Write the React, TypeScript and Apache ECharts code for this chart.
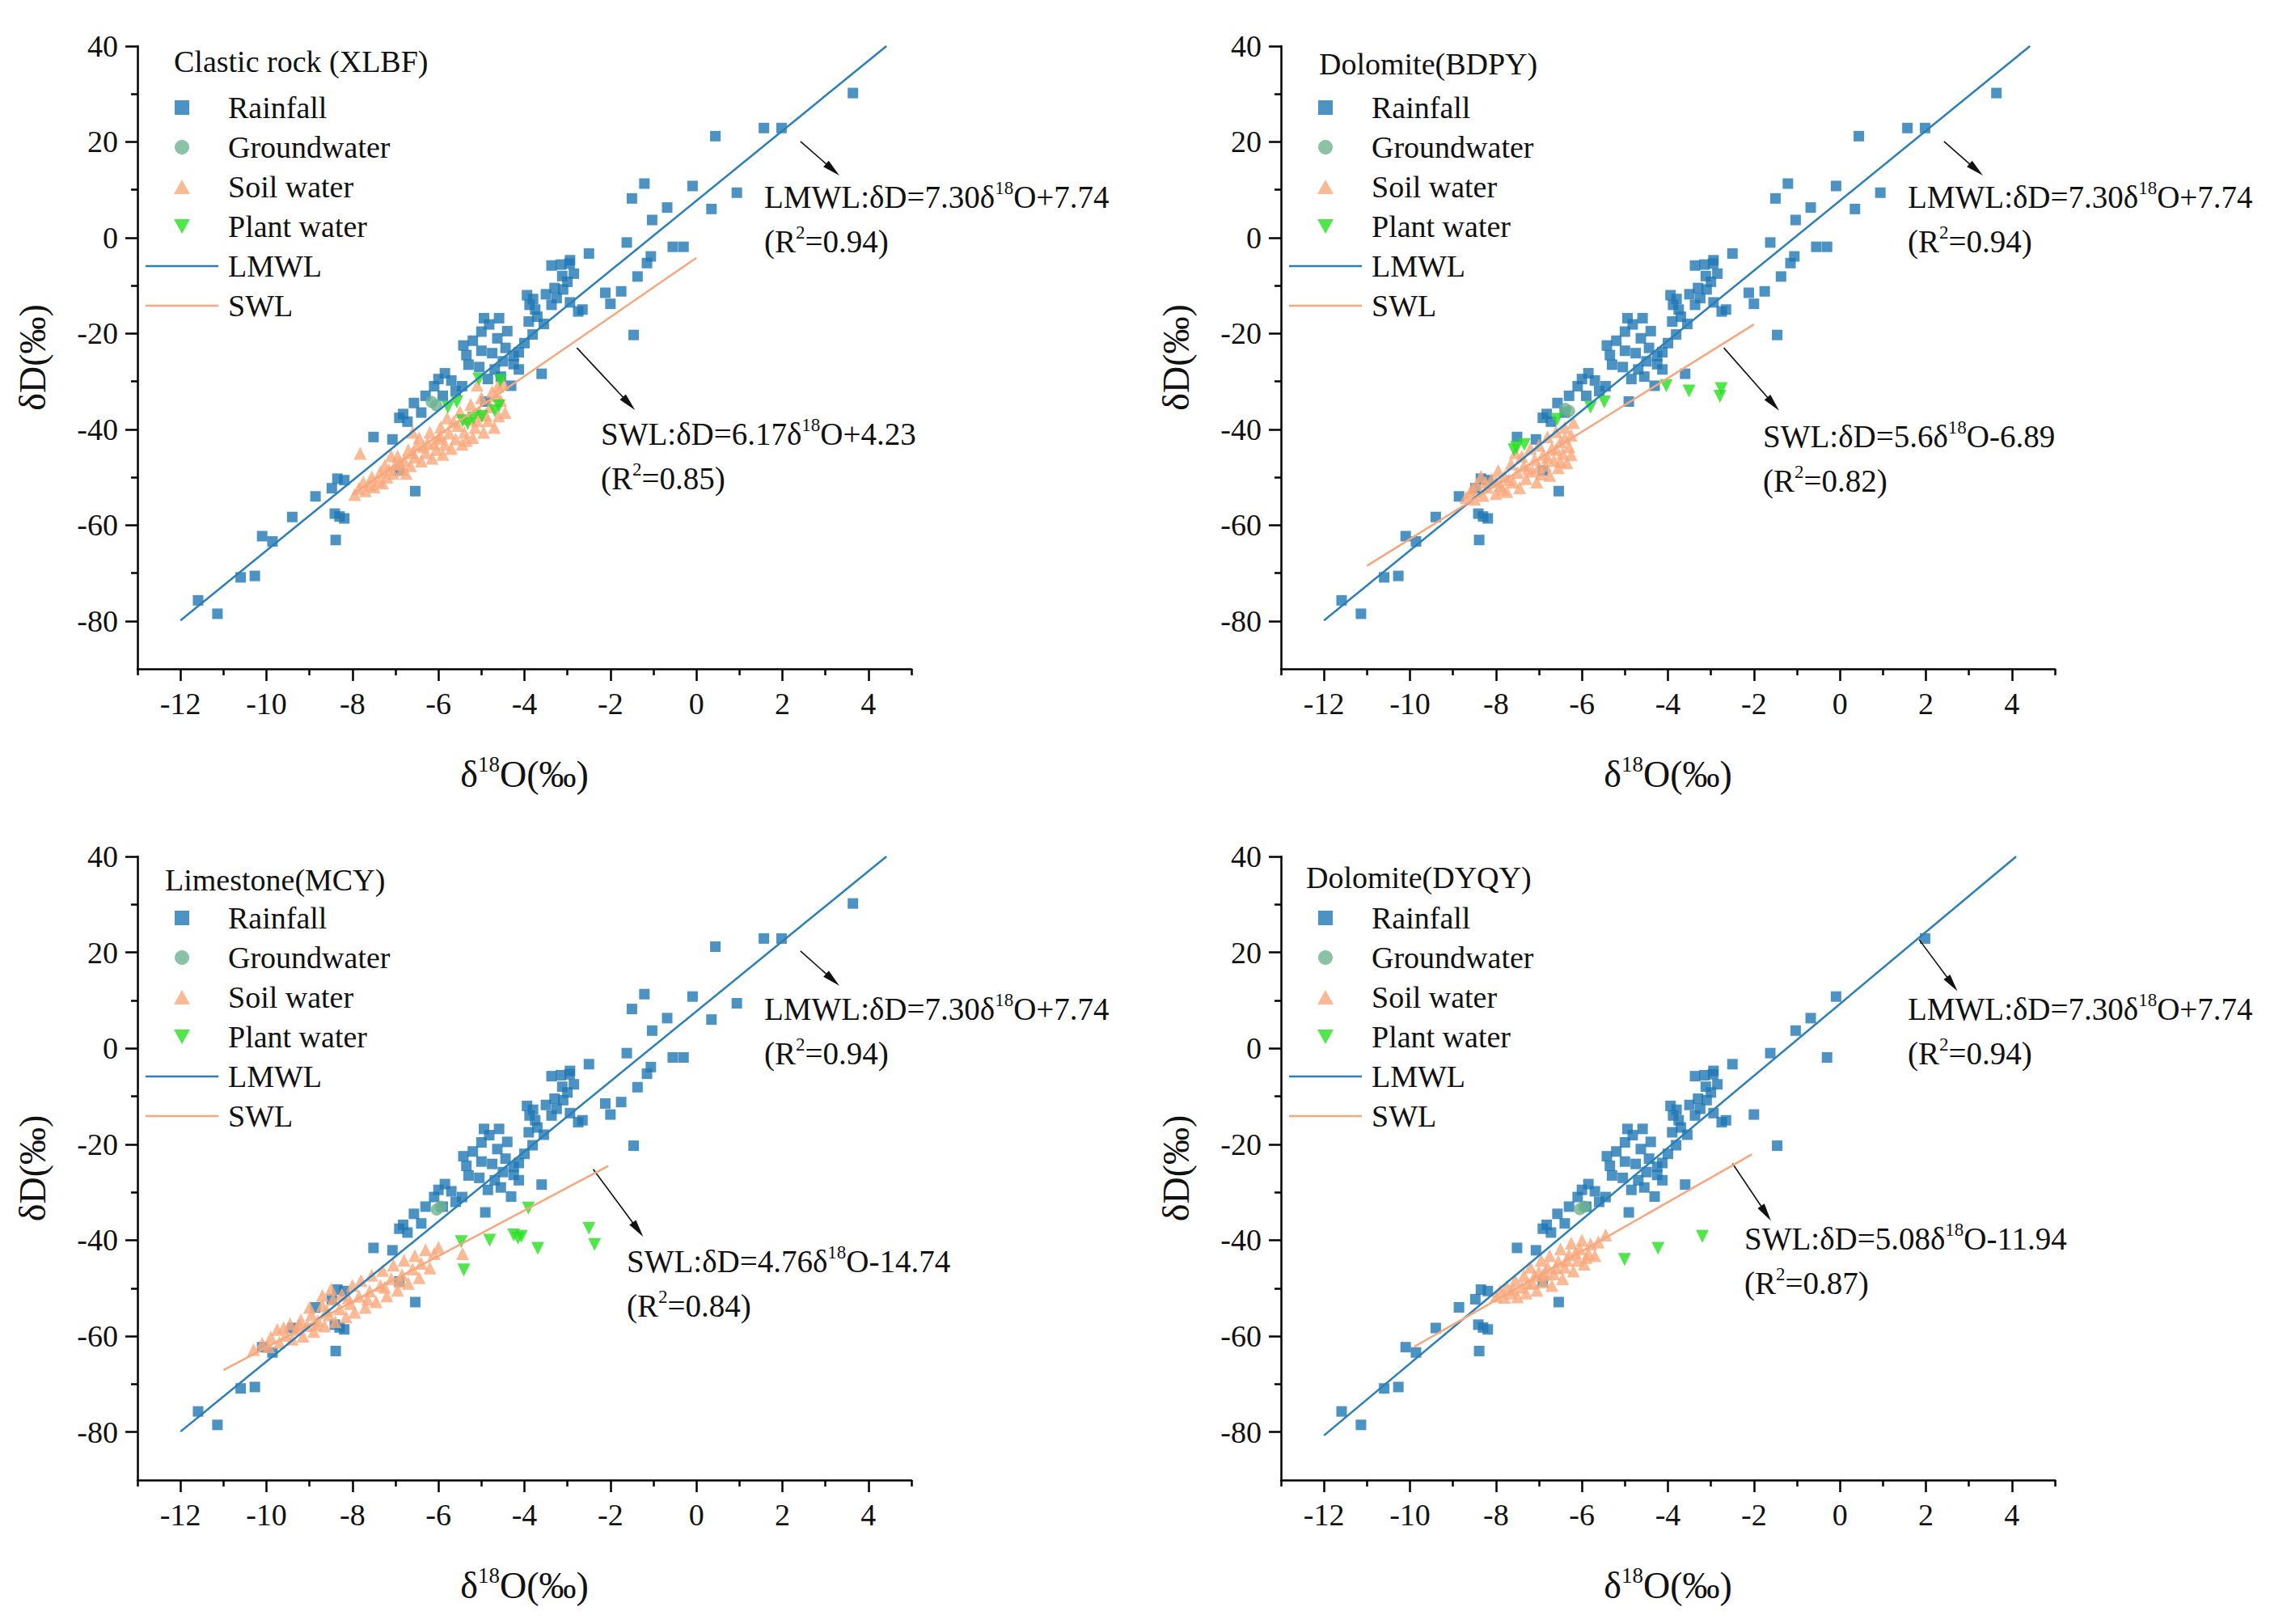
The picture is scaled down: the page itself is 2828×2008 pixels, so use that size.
import React, { useEffect, useRef } from "react";
import * as echarts from "echarts";

const FONT = '"Liberation Serif", "Times New Roman", Times, serif';

// ---------- axes ----------
const X_MIN = -13;
const X_MAX = 5;
const Y_MIN = -90;
const Y_MAX = 40;
const xMajorTicks = [-12, -10, -8, -6, -4, -2, 0, 2, 4];
const xMinorTicks = [-13, -11, -9, -7, -5, -3, -1, 1, 3, 5];
const yMajorTicks = [-80, -60, -40, -20, 0, 20, 40];
const yMinorTicks = [-70, -50, -30, -10, 10, 30];

const panelTitles = ["Clastic rock (XLBF)", "Dolomite(BDPY)", "Limestone(MCY)", "Dolomite(DYQY)"];
const seriesNames = ["Rainfall", "Groundwater", "Soil water", "Plant water", "LMWL", "SWL"];

// ---------- data: rainfall (shared by all four sites) ----------
const rainfallShared = [
  [-11.59, -75.7], [-11.14, -78.5], [-10.6, -70.9], [-10.27, -70.6], [-10.1, -62.3], [-9.86, -63.4],
  [-9.4, -58.3], [-8.86, -54.0], [-8.48, -52.3], [-8.35, -50.3], [-8.19, -50.6], [-8.41, -57.6],
  [-8.3, -58.2], [-8.19, -58.6], [-8.39, -63.1],
  [-7.51, -41.6], [-7.07, -42.1], [-6.91, -37.6], [-6.82, -36.8], [-6.72, -38.4], [-6.57, -34.5],
  [-6.54, -52.9], [-6.91, -48.6],
  [-6.1, -31.0], [-6.0, -29.5], [-5.85, -28.3], [-5.7, -29.8], [-5.45, -31.0], [-5.9, -33.0], [-5.6, -32.0],
  [-5.42, -22.5], [-5.35, -24.5], [-5.3, -26.5],
  [-4.94, -16.8], [-4.59, -16.8], [-5.0, -19.6], [-4.82, -18.1], [-4.63, -21.0], [-5.0, -23.6],
  [-4.75, -24.1], [-4.44, -23.0], [-4.25, -24.7], [-4.25, -26.4], [-4.13, -27.5], [-4.69, -27.5],
  [-4.31, -30.9], [-4.91, -34.2], [-4.55, -29.0], [-4.85, -29.5],
  [-3.81, -20.2], [-3.6, -28.4], [-3.88, -14.0], [-3.75, -15.0], [-3.37, -14.0], [-3.94, -12.0],
  [-3.8, -12.8], [-3.7, -16.5],
  [-3.37, -5.8], [-3.15, -5.6], [-2.95, -5.4], [-3.0, -9.2], [-3.1, -10.8], [-2.75, -15.4],
  [-2.65, -15.0], [-3.25, -12.6], [-2.94, -13.5], [-2.5, -3.3], [-2.94, -4.7],
  [-2.0, -13.8], [-1.46, -20.3], [-1.62, -1.0], [-0.3, -1.9], [-1.03, 3.7], [-0.68, 6.3],
  [-0.09, 10.8], [1.98, 22.9], [-4.13, -23.9], [-3.5, -11.8],
  [-5.2, -21.5], [-4.4, -19.5], [-4.0, -22.0], [-3.55, -18.0], [-3.3, -10.5], [-2.85, -7.5],
  [-6.3, -33.0], [-6.4, -36.5], [-5.05, -27.0], [-4.5, -25.8], [-3.12, -8.0], [-3.9, -17.5],
];
// rainfall samples shown in XLBF, BDPY and MCY only
const rainfallExtra = [
  [3.64, 30.2], [1.57, 22.9], [0.44, 21.2], [-1.21, 11.3], [-1.5, 8.2], [0.94, 9.4], [0.35, 6.0],
  [-0.55, -1.9], [-1.06, -3.9], [-1.15, -5.3], [-1.37, -8.1], [-1.75, -11.2], [-2.12, -11.5],
];

// ---------- groundwater ----------
const groundwaterXLBF = [[-6.16, -34.3], [-6.05, -35.0]];
const groundwaterBDPY = [[-6.39, -35.7], [-6.3, -36.2]];
const groundwaterMCY = [[-6.04, -33.6], [-5.95, -33.0]];
const groundwaterDYQY = [[-6.05, -33.5], [-5.95, -33.0]];

// ---------- soil water ----------
const soilXLBF = [
  [-7.95, -53.6], [-7.85, -52.3], [-7.7, -52.8], [-7.75, -51.0], [-7.6, -51.6], [-7.55, -49.9], [-7.82, -45.0],
  [-7.4, -50.8], [-7.35, -48.9], [-7.25, -47.6], [-7.2, -50.0], [-7.05, -49.2], [-7.0, -47.3], [-6.95, -45.6],
  [-6.85, -48.4], [-6.8, -46.5], [-6.7, -44.3], [-6.65, -47.6], [-6.55, -45.8], [-6.5, -43.2], [-6.45, -41.8],
  [-6.4, -46.6], [-6.3, -44.9], [-6.25, -42.8], [-6.2, -40.6], [-6.15, -46.0], [-6.05, -44.2], [-6.0, -41.9],
  [-5.95, -39.5], [-5.9, -45.2], [-5.85, -43.1], [-5.8, -37.6], [-5.75, -40.8], [-5.7, -44.0], [-5.6, -42.0],
  [-5.55, -39.2], [-5.5, -36.3], [-5.45, -43.1], [-5.4, -40.6], [-5.3, -37.8], [-5.25, -34.8], [-5.2, -41.7],
  [-5.15, -39.6], [-5.05, -36.5], [-5.0, -33.4], [-4.95, -40.6], [-4.85, -38.2], [-4.8, -35.3], [-4.75, -32.1],
  [-4.7, -39.6], [-4.6, -37.2], [-4.55, -34.0], [-4.5, -30.4], [-4.45, -36.5], [-4.62, -31.0], [-5.1, -30.8],
  [-6.6, -40.6], [-7.1, -45.5],
  [-7.5, -52.0], [-7.3, -51.2], [-7.15, -48.4], [-6.9, -47.0], [-6.75, -49.2], [-6.6, -44.9], [-6.35, -43.6],
  [-6.1, -43.0], [-5.95, -41.4], [-5.65, -38.4], [-5.35, -42.3], [-5.1, -38.2], [-4.9, -37.0], [-4.65, -33.0],
];
const soilBDPY = [
  [-8.7, -54.2], [-8.6, -53.2], [-8.5, -54.6], [-8.45, -51.5], [-8.35, -49.8], [-8.3, -53.8], [-8.2, -52.1],
  [-8.1, -50.4], [-8.0, -53.4], [-7.95, -48.6], [-7.9, -51.7], [-7.8, -49.8], [-7.75, -53.0], [-7.65, -47.2],
  [-7.6, -51.0], [-7.5, -49.0], [-7.45, -52.2], [-7.4, -45.6], [-7.35, -47.6], [-7.3, -50.3], [-7.2, -44.0],
  [-7.15, -48.7], [-7.1, -46.3], [-7.05, -51.0], [-7.0, -43.3], [-6.95, -49.3], [-6.9, -45.2], [-6.85, -47.5],
  [-6.8, -41.6], [-6.75, -49.6], [-6.7, -43.9], [-6.65, -46.5], [-6.6, -40.5], [-6.55, -48.0], [-6.5, -42.6],
  [-6.45, -45.0], [-6.4, -39.6], [-6.35, -47.0], [-6.3, -43.6], [-6.25, -41.2], [-6.2, -38.6], [-6.25, -45.3],
  [-6.4, -41.8], [-7.55, -44.9], [-8.0, -50.9],
  [-8.55, -52.4], [-8.25, -51.0], [-7.85, -52.5], [-7.7, -50.5], [-7.25, -48.2], [-7.0, -47.8], [-6.8, -45.8],
  [-6.6, -44.2], [-6.5, -46.7],
];
const soilMCY = [
  [-10.3, -62.8], [-10.1, -61.5], [-9.95, -62.2], [-9.9, -60.2], [-9.75, -58.6], [-9.7, -61.3], [-9.55, -59.8],
  [-9.45, -57.4], [-9.4, -60.6], [-9.3, -58.6], [-9.2, -56.6], [-9.15, -60.0], [-9.05, -57.8], [-8.95, -55.5],
  [-8.9, -59.0], [-8.8, -56.8], [-8.7, -53.6], [-8.65, -57.9], [-8.55, -55.5], [-8.5, -50.2], [-8.45, -52.3],
  [-8.4, -57.0], [-8.3, -54.3], [-8.25, -51.3], [-8.15, -56.0], [-8.05, -53.2], [-8.0, -49.4], [-7.95, -55.0],
  [-7.85, -51.7], [-7.8, -48.4], [-7.7, -54.0], [-7.6, -50.6], [-7.55, -47.3], [-7.45, -52.8], [-7.35, -49.4],
  [-7.3, -46.3], [-7.2, -51.6], [-7.1, -48.0], [-7.05, -45.2], [-6.95, -50.4], [-6.85, -47.2], [-6.8, -44.2],
  [-6.7, -49.0], [-6.6, -46.0], [-6.55, -43.2], [-6.45, -47.8], [-6.4, -44.8], [-6.3, -42.0], [-6.2, -45.8],
  [-6.1, -42.8], [-6.0, -41.5], [-5.44, -42.8], [-8.7, -51.5], [-9.0, -54.0],
  [-9.6, -58.2], [-9.25, -57.6], [-8.85, -57.6], [-8.6, -54.6], [-8.1, -52.0], [-7.65, -52.3], [-7.25, -49.8],
  [-6.9, -48.6],
];
const soilDYQY = [
  [-8.0, -51.7], [-7.9, -50.6], [-7.8, -51.9], [-7.75, -49.6], [-7.65, -51.0], [-7.55, -48.4], [-7.5, -51.8],
  [-7.4, -49.8], [-7.35, -47.4], [-7.3, -51.0], [-7.2, -45.6], [-7.15, -48.9], [-7.05, -50.4], [-7.0, -46.6],
  [-6.95, -44.2], [-6.9, -48.7], [-6.8, -45.6], [-6.75, -43.2], [-6.7, -49.4], [-6.65, -47.0], [-6.55, -44.4],
  [-6.5, -41.8], [-6.45, -48.0], [-6.4, -45.6], [-6.3, -43.0], [-6.25, -40.6], [-6.2, -46.4], [-6.1, -44.2],
  [-6.05, -41.8], [-6.0, -40.0], [-5.95, -45.0], [-5.85, -42.8], [-5.8, -40.8], [-5.7, -43.2], [-5.62, -40.4],
  [-5.45, -38.9], [-7.6, -50.2], [-6.9, -47.2],
  [-7.25, -49.0], [-7.1, -47.4], [-6.85, -46.8], [-6.6, -45.8], [-6.35, -44.2], [-6.15, -42.6], [-5.9, -43.6],
];

// ---------- plant water ----------
const plantXLBF = [
  [-5.06, -29.5], [-4.56, -29.8], [-5.57, -34.3], [-5.78, -35.4], [-5.44, -38.2], [-5.19, -37.6],
  [-4.99, -37.3], [-4.59, -35.1], [-4.69, -36.1], [-5.32, -38.8],
];
const plantBDPY = [
  [-4.04, -30.9], [-3.51, -32.0], [-2.76, -31.5], [-2.79, -33.1], [-5.48, -34.3], [-5.8, -35.4],
  [-6.58, -37.9], [-7.52, -43.8], [-7.34, -43.2], [-7.58, -44.3],
];
const plantMCY = [
  [-3.91, -33.3], [-5.47, -40.3], [-5.41, -46.2], [-4.81, -40.0], [-4.25, -38.9], [-4.07, -39.2],
  [-4.15, -39.6], [-3.69, -41.7], [-2.5, -37.5], [-2.37, -40.9],
];
const plantDYQY = [[-5.01, -44.0], [-4.23, -41.7], [-3.2, -39.2]];

// ---------- regression lines (end points) ----------
const lmwlLine = [[-12, -79.9], [4.42, 40]];
const lmwlLineDYQY = [[-12, -80.7], [4.1, 40]];
const swlXLBF = [[-8.0, -53.6], [0.0, -4.2]];
const swlBDPY = [[-11.0, -68.5], [-2.0, -18.1]];
const swlMCY = [[-11.0, -67.1], [-2.05, -24.5]];
const swlDYQY = [[-9.9, -62.2], [-2.05, -22.1]];

// ---------- annotation texts & arrows ----------
const lmwlEquation = "LMWL:δD=7.30δ{sup|18}O+7.74";
const lmwlR2 = "(R{sup|2}=0.94)";
const swlEquations = [
  "SWL:δD=6.17δ{sup|18}O+4.23",
  "SWL:δD=5.6δ{sup|18}O-6.89",
  "SWL:δD=4.76δ{sup|18}O-14.74",
  "SWL:δD=5.08δ{sup|18}O-11.94",
];
const swlR2 = ["(R{sup|2}=0.85)", "(R{sup|2}=0.82)", "(R{sup|2}=0.84)", "(R{sup|2}=0.87)"];
const lmwlArrows = [
  [[2.42, 20.1], [3.17, 14.2]],
  [[2.42, 20.1], [3.17, 14.2]],
  [[2.42, 20.3], [3.17, 14.3]],
  [[1.84, 22.7], [2.61, 13.4]],
];
const swlArrows = [
  [[-2.78, -23.0], [-1.57, -34.6]],
  [[-2.7, -23.0], [-1.55, -34.7]],
  [[-2.4, -25.2], [-1.36, -37.8]],
  [[-2.5, -24.0], [-1.72, -34.4]],
];

// ---------- layout (pixels) ----------
const GRID_W = 957;
const GRIDS = [
  { left: 170, top: 57, height: 770 },
  { left: 1584, top: 57, height: 770 },
  { left: 170, top: 1059, height: 771 },
  { left: 1584, top: 1059, height: 771 },
];
const TITLE_POS = [[215, 76], [1631, 79], [204, 1088], [1615, 1085]];
const LMWL_TEXT_POS = [[945, 243], [2359, 243], [945, 1247], [2359, 1247]];
const SWL_TEXT_POS = [[743, 536], [2180, 539], [775, 1559], [2157, 1531]];
const R2_GAP = 55;

const C_RAIN = "#1f78b4";
const C_GW = "#6cb38f";
const C_SOIL = "#f9a97c";
const C_PLANT = "#27e020";
const C_LMWL = "#2b7fb8";
const C_SWL = "#f6a77e";

const ICON_SQUARE = "path://M0,0L10,0L10,10L0,10Z";
const ICON_TRI = "path://M5,0L10,9L0,9Z";
const ICON_TRI_DOWN = "path://M0,0L10,0L5,9Z";
const ICON_LINE = "path://M0,0L100,0L100,3L0,3Z";

const TEXT_RICH = {
  sup: { fontSize: 23, fontFamily: FONT, fill: "#111", verticalAlign: "top", lineHeight: 20 },
};

function buildOption() {
  const rainSets = [
    rainfallShared.concat(rainfallExtra),
    rainfallShared.concat(rainfallExtra),
    rainfallShared.concat(rainfallExtra),
    rainfallShared,
  ];
  const gwSets = [groundwaterXLBF, groundwaterBDPY, groundwaterMCY, groundwaterDYQY];
  const soilSets = [soilXLBF, soilBDPY, soilMCY, soilDYQY];
  const plantSets = [plantXLBF, plantBDPY, plantMCY, plantDYQY];
  const lmwlSets = [lmwlLine, lmwlLine, lmwlLine, lmwlLineDYQY];
  const swlSets = [swlXLBF, swlBDPY, swlMCY, swlDYQY];

  const grid: any[] = [];
  const xAxis: any[] = [];
  const yAxis: any[] = [];
  const series: any[] = [];
  const legend: any[] = [];
  const graphic: any[] = [];

  const axisLineStyle = { color: "#000", width: 2.5 };
  const labelStyle = { fontSize: 38, fontFamily: FONT, color: "#111" };
  const nameStyle = {
    fontSize: 46,
    fontFamily: FONT,
    color: "#111",
    lineHeight: 52,
    rich: { sup: { fontSize: 27, fontFamily: FONT, color: "#111", verticalAlign: "top", lineHeight: 26 } },
  };

  const arrowLine = (pts: number[][]) => ({
    silent: true,
    symbol: ["none", "triangle"],
    symbolSize: 20,
    itemStyle: { color: "#111" },
    lineStyle: { color: "#111", width: 1.6, type: "solid", opacity: 1 },
    label: { show: false },
    emphasis: { disabled: true },
    data: [[{ coord: pts[0] }, { coord: pts[1], symbol: "triangle", symbolSize: [10, 22] }]],
  });

  GRIDS.forEach((g, i) => {
    grid.push({
      left: g.left,
      top: g.top,
      width: GRID_W,
      height: g.height,
      containLabel: false,
      outerBoundsMode: "none",
    });
    xAxis.push({
      type: "value",
      gridIndex: i,
      min: X_MIN,
      max: X_MAX,
      position: "bottom",
      name: "δ{sup|18}O(‰)",
      nameLocation: "middle",
      nameGap: 104,
      nameTextStyle: nameStyle,
      axisLine: { show: true, onZero: false, lineStyle: axisLineStyle },
      axisTick: { show: true, inside: false, length: 15, customValues: xMajorTicks, lineStyle: axisLineStyle },
      axisLabel: { show: true, customValues: xMajorTicks, margin: 24, ...labelStyle },
      splitLine: { show: false },
      minorTick: { show: false },
    });
    xAxis.push({
      type: "value",
      gridIndex: i,
      min: X_MIN,
      max: X_MAX,
      position: "bottom",
      axisLine: { show: false, onZero: false },
      axisTick: { show: true, inside: false, length: 8, customValues: xMinorTicks, lineStyle: axisLineStyle },
      axisLabel: { show: false },
      splitLine: { show: false },
    });
    yAxis.push({
      type: "value",
      gridIndex: i,
      min: Y_MIN,
      max: Y_MAX,
      position: "left",
      name: "δD(‰)",
      nameLocation: "middle",
      nameGap: 104,
      nameRotate: 90,
      nameTextStyle: nameStyle,
      axisLine: { show: true, onZero: false, lineStyle: axisLineStyle },
      axisTick: { show: true, inside: false, length: 15, customValues: yMajorTicks, lineStyle: axisLineStyle },
      axisLabel: { show: true, customValues: yMajorTicks, margin: 24, ...labelStyle },
      splitLine: { show: false },
      minorTick: { show: false },
    });
    yAxis.push({
      type: "value",
      gridIndex: i,
      min: Y_MIN,
      max: Y_MAX,
      position: "left",
      axisLine: { show: false, onZero: false },
      axisTick: { show: true, inside: false, length: 8, customValues: yMinorTicks, lineStyle: axisLineStyle },
      axisLabel: { show: false },
      splitLine: { show: false },
    });

    const ax = { xAxisIndex: 2 * i, yAxisIndex: 2 * i };
    series.push({
      type: "scatter", name: seriesNames[0], ...ax, data: rainSets[i],
      symbol: "rect", symbolSize: 13, itemStyle: { color: C_RAIN }, z: 2,
    });
    series.push({
      type: "scatter", name: seriesNames[1], ...ax, data: gwSets[i],
      symbol: "circle", symbolSize: 15, itemStyle: { color: C_GW }, z: 3,
    });
    series.push({
      type: "scatter", name: seriesNames[2], ...ax, data: soilSets[i],
      symbol: "triangle", symbolSize: 16, itemStyle: { color: C_SOIL }, z: 3,
    });
    series.push({
      type: "scatter", name: seriesNames[3], ...ax, data: plantSets[i],
      symbol: "triangle", symbolRotate: 180, symbolSize: 16, itemStyle: { color: C_PLANT }, z: 4,
    });
    series.push({
      type: "line", name: seriesNames[4], ...ax, data: lmwlSets[i], symbol: "none",
      lineStyle: { color: C_LMWL, width: 2.5 }, itemStyle: { color: C_LMWL }, z: 5,
      markLine: arrowLine(lmwlArrows[i]),
    });
    series.push({
      type: "line", name: seriesNames[5], ...ax, data: swlSets[i], symbol: "none",
      lineStyle: { color: C_SWL, width: 2.5 }, itemStyle: { color: C_SWL }, z: 5,
      markLine: arrowLine(swlArrows[i]),
    });

    legend.push({
      orient: "vertical",
      left: g.left + 10,
      top: g.top + 56,
      padding: 0,
      itemWidth: 90,
      itemHeight: 18,
      itemGap: 9,
      selectedMode: false,
      symbolKeepAspect: true,
      itemStyle: { borderWidth: 0 },
      textStyle: { fontSize: 38, fontFamily: FONT, color: "#111", lineHeight: 40, padding: [0, 0, 0, 7] },
      data: [
        { name: seriesNames[0], icon: ICON_SQUARE },
        { name: seriesNames[1], icon: "circle" },
        { name: seriesNames[2], icon: ICON_TRI },
        { name: seriesNames[3], icon: ICON_TRI_DOWN },
        { name: seriesNames[4], icon: ICON_LINE },
        { name: seriesNames[5], icon: ICON_LINE },
      ],
    });

    const textEl = (text: string, x: number, y: number, size: number) => ({
      type: "text",
      x,
      y,
      silent: true,
      style: {
        text,
        fontSize: size,
        fontFamily: FONT,
        fill: "#111",
        align: "left",
        verticalAlign: "middle",
        lineHeight: 44,
        rich: TEXT_RICH,
      },
    });
    graphic.push(textEl(panelTitles[i], TITLE_POS[i][0], TITLE_POS[i][1], 38));
    graphic.push(textEl(lmwlEquation, LMWL_TEXT_POS[i][0], LMWL_TEXT_POS[i][1], 39));
    graphic.push(textEl(lmwlR2, LMWL_TEXT_POS[i][0], LMWL_TEXT_POS[i][1] + R2_GAP, 39));
    graphic.push(textEl(swlEquations[i], SWL_TEXT_POS[i][0], SWL_TEXT_POS[i][1], 39));
    graphic.push(textEl(swlR2[i], SWL_TEXT_POS[i][0], SWL_TEXT_POS[i][1] + R2_GAP, 39));
  });

  return {
    animation: false,
    backgroundColor: "#ffffff",
    textStyle: { fontFamily: FONT },
    grid,
    xAxis,
    yAxis,
    legend,
    series,
    graphic,
  };
}

export default function App() {
  const ref = useRef<HTMLDivElement>(null);
  useEffect(() => {
    document.body.style.margin = "0";
    document.body.style.overflow = "hidden";
    if (!ref.current) return;
    const chart = echarts.init(ref.current, null, { renderer: "svg" });
    chart.setOption(buildOption() as any);
    return () => chart.dispose();
  }, []);
  return (
    <div
      ref={ref}
      style={{ position: "absolute", left: 0, top: 0, width: 2828, height: 2008, background: "#fff" }}
    />
  );
}
